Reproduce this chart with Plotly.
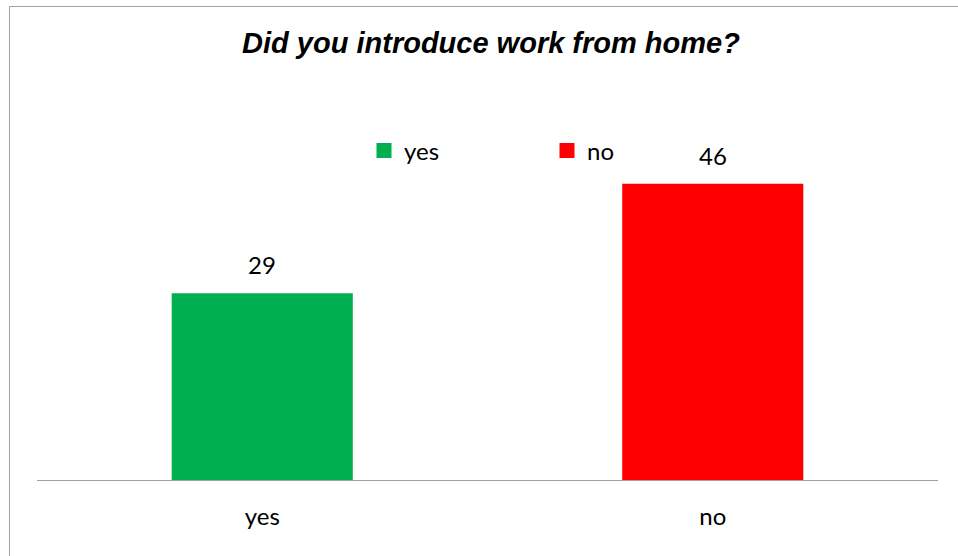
import plotly.graph_objects as go

categories = ["yes", "no"]
values = [29, 46]
colors = ["#00B050", "#FF0000"]
title_text = "Did you introduce work from home?"

W, H = 958, 556
L, R, T, B = 37, 20, 158, 76
pw = W - L - R
ph = H - T - B

def px_x(px):
    return (px - L) / pw

def px_y(py):
    return (H - B - py) / ph

fig = go.Figure()
for cat, val, col in zip(categories, values, colors):
    fig.add_trace(go.Bar(
        x=[cat], y=[val], marker=dict(color=col, line=dict(width=0)),
        showlegend=False, hoverinfo="skip",
    ))
    fig.add_annotation(
        x=cat, y=val, xref="x", yref="y", text=str(val), showarrow=False,
        yanchor="bottom", yshift=12,
        font=dict(family="Lato", size=24, color="#000000"),
    )
for cat, col in zip(categories, colors):
    fig.add_trace(go.Scatter(
        x=[None], y=[None], mode="markers", name=cat,
        marker=dict(symbol="square", size=15, color=col),
        showlegend=True,
    ))

fig.update_layout(
    width=W, height=H,
    margin=dict(l=L, r=R, t=T, b=B, pad=0),
    paper_bgcolor="white", plot_bgcolor="white",
    barmode="overlay", bargap=0.598,
    title=dict(
        text=title_text, x=px_x(491), xref="paper", xanchor="center",
        y=1 - 42.85 / H, yref="container", yanchor="middle",
        font=dict(family="Liberation Sans", size=29, color="#000000",
                  weight="bold", style="italic"),
    ),
    legend=dict(
        orientation="h", x=px_x(364), xanchor="left", xref="paper",
        y=px_y(151), yanchor="middle", yref="paper",
        font=dict(family="Lato", size=24, color="#000000"),
        entrywidth=138, entrywidthmode="pixels",
        bgcolor="rgba(0,0,0,0)", borderwidth=0,
    ),
    xaxis=dict(
        type="category", categoryorder="array", categoryarray=categories,
        showline=True, linecolor="#a0a0a0", linewidth=1,
        ticks="", showgrid=False, zeroline=False,
        tickfont=dict(family="Lato", size=24, color="#000000"),
        ticklabelstandoff=15,
    ),
    yaxis=dict(range=[0, 50], visible=False, showgrid=False, zeroline=False),
    shapes=[dict(
        type="rect", xref="paper", yref="paper",
        x0=px_x(9.5), x1=px_x(W + 20), y0=px_y(H + 20), y1=px_y(6.5),
        line=dict(color="#a0a0a0", width=1), fillcolor="rgba(0,0,0,0)",
        layer="below",
    )],
)

fig.write_html(
    "out.html",
    config={"displayModeBar": False},
    post_script="document.body.style.margin='0';document.body.style.overflow='hidden';",
)
